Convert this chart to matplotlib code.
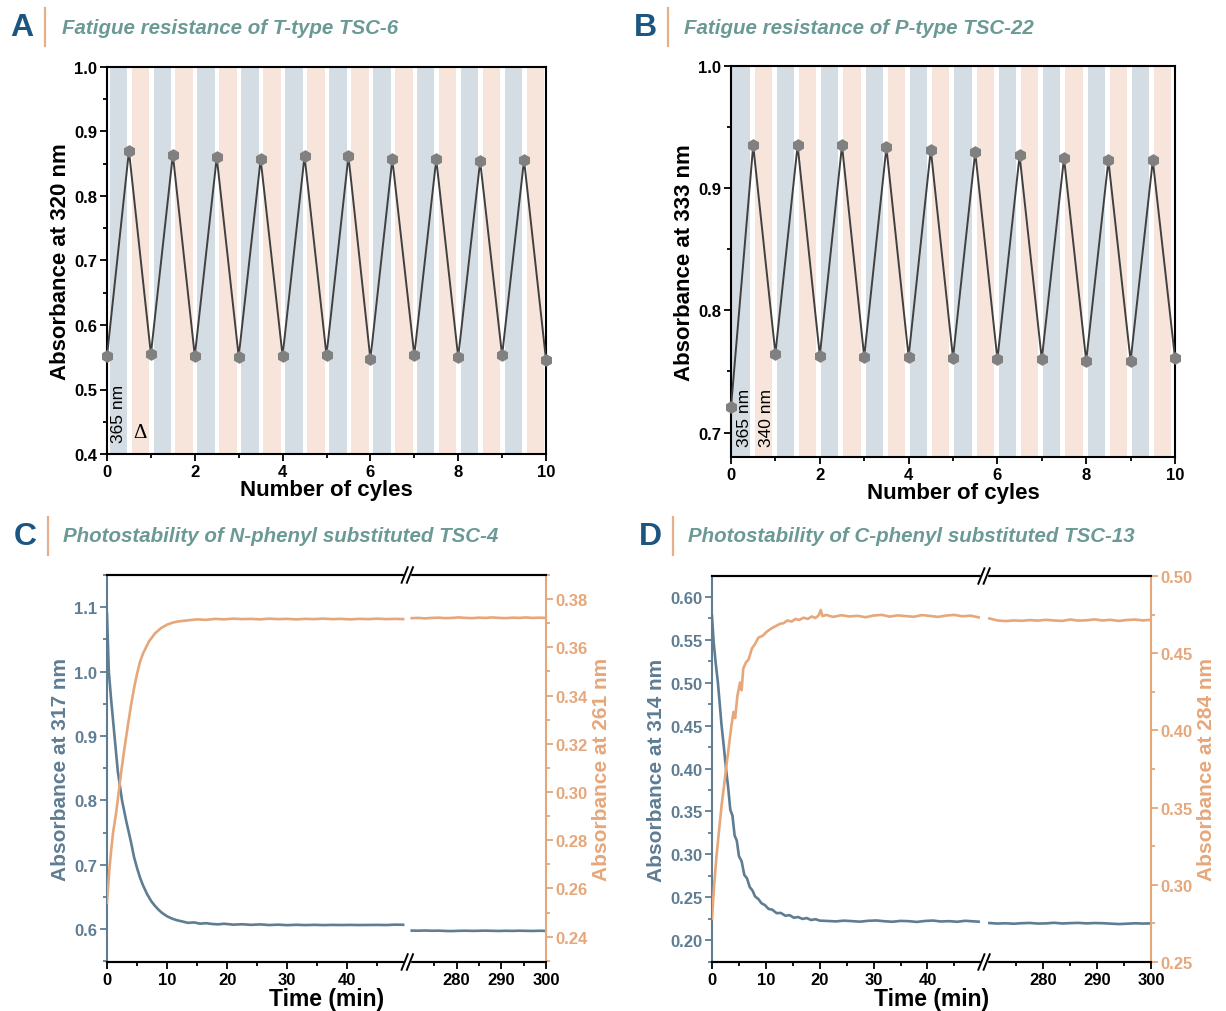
import numpy as np
import matplotlib
matplotlib.use('Agg')
from matplotlib import pyplot as plt
from matplotlib.ticker import MultipleLocator, FixedLocator
from matplotlib.patches import Rectangle
from matplotlib.lines import Line2D

plt.rcParams['font.family'] = ['Liberation Sans', 'DejaVu Sans']
plt.rcParams['font.weight'] = 'bold'
plt.rcParams['axes.labelweight'] = 'bold'

# ---- data: fatigue cycles (A, B) ----
cycles = [0, 0.5, 1, 1.5, 2, 2.5, 3, 3.5, 4, 4.5, 5, 5.5, 6, 6.5, 7, 7.5, 8, 8.5, 9, 9.5, 10]
a_abs = [0.552, 0.870, 0.555, 0.864, 0.552, 0.860, 0.551, 0.857, 0.552, 0.862, 0.553,
         0.862, 0.547, 0.857, 0.553, 0.857, 0.550, 0.854, 0.553, 0.856, 0.546]
b_abs = [0.7207, 0.935, 0.7645, 0.935, 0.763, 0.935, 0.762, 0.9334, 0.762, 0.9315, 0.761,
         0.9296, 0.760, 0.9268, 0.760, 0.9247, 0.7587, 0.9227, 0.7587, 0.9227, 0.761]

# ---- data: photostability C (TSC-4) ----
c_t_blue = [0, 0.3, 0.7, 1.2, 1.8, 2.5, 3.2, 4.0, 4.5, 5.0, 5.5, 6.0, 6.7, 7.4, 8.0, 8.6, 9.2,
            10.0, 10.8, 11.6, 12.5, 13.5, 14.5, 15.5, 16.5, 17.5, 18.5, 19.5, 21, 22.5, 24,
            25.5, 27, 28.5, 30, 31.5, 33, 34.5, 36, 37.5, 39, 40.5, 42, 43.5, 45, 46.5, 48, 49.3]
c_blue = [1.09, 1.00, 0.955, 0.905, 0.845, 0.800, 0.768, 0.735, 0.712, 0.695, 0.680, 0.668,
          0.654, 0.643, 0.636, 0.630, 0.625, 0.620, 0.6165, 0.614, 0.612, 0.6098, 0.6105,
          0.6085, 0.6093, 0.6080, 0.6075, 0.6084, 0.6070, 0.6076, 0.6067, 0.6074, 0.6064,
          0.6070, 0.6062, 0.6068, 0.6063, 0.6067, 0.6063, 0.6066, 0.6064, 0.6066, 0.6064,
          0.6065, 0.6066, 0.6064, 0.6070, 0.6068]
c_t_orange = [0, 0.2, 0.4, 0.7, 1.0, 1.5, 1.9, 2.4, 2.9, 3.5, 4.0, 4.5, 5.0, 5.5, 6.0, 7.0,
              8.0, 9.0, 10.0, 11.0, 12.0, 13.5, 15, 16.5, 18, 19.5, 21, 22.5, 24, 25.5, 27,
              28.5, 30, 31.5, 33, 34.5, 36, 37.5, 39, 40.5, 42, 43.5, 45, 46.5, 48, 49.3]
c_orange = [0.254, 0.261, 0.268, 0.276, 0.283, 0.291, 0.299, 0.309, 0.318, 0.328, 0.336,
            0.343, 0.349, 0.354, 0.3575, 0.3625, 0.3658, 0.3680, 0.3694, 0.3703, 0.3708,
            0.3712, 0.3716, 0.3714, 0.3718, 0.3716, 0.3719, 0.3717, 0.3718, 0.3716, 0.3719,
            0.3717, 0.3718, 0.3716, 0.3718, 0.3717, 0.3719, 0.3717, 0.3718, 0.3716, 0.3718,
            0.3717, 0.3719, 0.3717, 0.3718, 0.3717]
c_t_late = [270, 271.5, 273, 274.5, 276, 277.5, 279, 280.5, 282, 283.5, 285, 286.5, 288,
            289.5, 291, 292.5, 294, 295.5, 297, 298.5, 300]
c_blue_late = [0.5978, 0.5976, 0.5979, 0.5975, 0.5977, 0.5972, 0.5970, 0.5974, 0.5976,
               0.5973, 0.5975, 0.5977, 0.5974, 0.5972, 0.5975, 0.5973, 0.5976, 0.5974,
               0.5972, 0.5975, 0.5973]
c_orange_late = [0.3721, 0.3722, 0.3720, 0.3722, 0.3723, 0.3721, 0.3722, 0.3724, 0.3722,
                 0.3721, 0.3723, 0.3722, 0.3724, 0.3722, 0.3721, 0.3723, 0.3722, 0.3724,
                 0.3722, 0.3723, 0.3722]

# ---- data: photostability D (TSC-13) ----
d_t_blue = [0, 0.3, 0.7, 1.1, 1.4, 1.75, 2.2, 2.6, 3.0, 3.4, 3.8, 4.2, 4.6, 5.0, 5.5, 6.0,
            6.5, 7.0, 7.5, 8.0, 8.6, 9.2, 9.8, 10.5, 11.2, 12.0, 12.8, 13.6, 14.4, 15.2,
            16.0, 16.8, 17.6, 18.4, 19.2, 20.0, 21.5, 23, 24.5, 26, 27.5, 29, 30.5, 32,
            33.5, 35, 36.5, 38, 39.5, 41, 42.5, 44, 45.5, 47, 48.5, 49.5]
d_blue = [0.578, 0.548, 0.522, 0.500, 0.478, 0.452, 0.425, 0.400, 0.378, 0.352, 0.345,
          0.322, 0.316, 0.298, 0.292, 0.276, 0.272, 0.262, 0.258, 0.251, 0.248, 0.243,
          0.241, 0.2365, 0.2355, 0.2315, 0.2318, 0.2285, 0.2292, 0.2262, 0.2270, 0.2248,
          0.2258, 0.2235, 0.2245, 0.2228, 0.2224, 0.2219, 0.2228, 0.2222, 0.2216, 0.2226,
          0.2230, 0.2221, 0.2215, 0.2225, 0.2222, 0.2213, 0.2224, 0.2229, 0.2218, 0.2222,
          0.2215, 0.2226, 0.2220, 0.2216]
d_t_orange = [0, 0.4, 0.85, 1.3, 1.8, 2.3, 2.6, 3.0, 3.6, 4.0, 4.3, 4.7, 5.2, 5.5, 5.8, 6.3,
              6.8, 7.4, 8.0, 8.6, 9.4, 10.2, 11.0, 11.8, 12.6, 13.3, 14.0, 14.8, 15.5, 16.2,
              17.0, 17.8, 18.5, 19.2, 19.8, 20.2, 20.5, 21.2, 22.5, 24, 25.5, 27, 28.5, 30,
              31.5, 33, 34.5, 36, 37.5, 39, 40.5, 42, 43.5, 45, 46.5, 48, 49.5]
d_orange = [0.278, 0.300, 0.319, 0.335, 0.352, 0.366, 0.375, 0.386, 0.403, 0.412, 0.408,
            0.422, 0.431, 0.426, 0.440, 0.444, 0.446, 0.453, 0.456, 0.460, 0.4613, 0.464,
            0.466, 0.4675, 0.469, 0.4695, 0.4712, 0.4705, 0.4722, 0.4715, 0.4730, 0.4722,
            0.4738, 0.4728, 0.4745, 0.4780, 0.4740, 0.4748, 0.4735, 0.4746, 0.4738, 0.4742,
            0.4733, 0.4744, 0.4748, 0.4737, 0.4745, 0.4740, 0.4736, 0.4747, 0.4741, 0.4735,
            0.4744, 0.4748, 0.4739, 0.4743, 0.4732]
d_t_late = [270, 271.5, 273, 274.5, 276, 277.5, 279, 280.5, 282, 283.5, 285, 286.5, 288,
            289.5, 291, 292.5, 294, 295.5, 297, 298.5, 300]
d_blue_late = [0.2200, 0.2194, 0.2197, 0.2192, 0.2198, 0.2201, 0.2194, 0.2196, 0.2203,
               0.2195, 0.2199, 0.2202, 0.2196, 0.2200, 0.2198, 0.2193, 0.2188, 0.2192,
               0.2197, 0.2194, 0.2196]
d_orange_late = [0.4725, 0.4712, 0.4708, 0.4712, 0.4710, 0.4714, 0.4711, 0.4716, 0.4712,
                 0.4709, 0.4718, 0.4711, 0.4713, 0.4719, 0.4712, 0.4716, 0.4709, 0.4715,
                 0.4718, 0.4712, 0.4716]

time_major = [0, 10, 20, 30, 40, 280, 290, 300]
time_minor = [5, 15, 25, 35, 45, 275, 285, 295]

# colours
BAND_BLUE = '#d4dde3'
BAND_PEACH = '#f7e5db'
LINE_BLUE = '#5e7d93'
LINE_ORANGE = '#e6a77a'
TITLE_COL = '#6b9a96'
LETTER_COL = '#1b5580'

fig = plt.figure(figsize=(12.26, 10.12), dpi=100)
W, H = 1226, 1012


def px_axes(left, right, top, bottom):
    return fig.add_axes([left / W, 1 - bottom / H, (right - left) / W, (bottom - top) / H])


def header(letter, title, x_letter, x_bar, x_title, y):
    yf = 1 - y / H
    fig.text(x_letter / W, yf, letter, fontsize=23, color=LETTER_COL, ha='center', va='center')
    fig.add_artist(Line2D([x_bar / W, x_bar / W], [1 - (y - 19) / H, 1 - (y + 19) / H],
                          color='#e8b08a', lw=1.6))
    fig.text(x_title / W, yf, title, fontsize=14.8, style='italic', color=TITLE_COL,
             ha='left', va='center')


def cycle_panel(ax, values, ylim, ystep, off0, off1, ylabel):
    for k in range(20):
        ax.axvspan(0.5 * k + off0, 0.5 * k + off1, color=BAND_BLUE if k % 2 == 0 else BAND_PEACH,
                   lw=0, zorder=0)
    ax.plot(cycles, values, color='#404040', lw=1.4, marker='h', markersize=8,
            mfc='#808080', mec='#808080', clip_on=False, zorder=3)
    ax.set_xlim(0, 10)
    ax.set_ylim(*ylim)
    ax.xaxis.set_major_locator(MultipleLocator(2))
    ax.xaxis.set_minor_locator(MultipleLocator(1))
    ax.yaxis.set_major_locator(MultipleLocator(ystep))
    ax.yaxis.set_minor_locator(MultipleLocator(ystep / 2))
    ax.tick_params(which='both', direction='out', width=1.3, labelsize=12, pad=2)
    ax.tick_params(which='major', length=5)
    ax.tick_params(which='minor', length=3)
    for s in ax.spines.values():
        s.set_linewidth(1.5)
    ax.set_xlabel('Number of cyles', fontsize=16, labelpad=0)
    ax.set_ylabel(ylabel, fontsize=16, labelpad=2)


# ---- A ----
axA = px_axes(107, 546, 68, 455)
cycle_panel(axA, a_abs, (0.4, 1.0), 0.1, 0.06, 0.46, 'Absorbance at 320 nm')
axA.text(0.27, 0.418, '365 nm', rotation=90, fontsize=12.5, weight='normal', ha='center', va='bottom')
axA.text(0.75, 0.418, 'Δ', fontsize=15, weight='normal', family='Liberation Serif',
         ha='center', va='bottom')
header('A', 'Fatigue resistance of T-type TSC-6', 22, 45, 62, 28)

# ---- B ----
axB = px_axes(731, 1175, 67, 458)
cycle_panel(axB, b_abs, (0.68, 1.0), 0.1, 0.03, 0.42, 'Absorbance at 333 nm')
axB.text(0.3, 0.689, '365 nm', rotation=90, fontsize=12.5, weight='normal', ha='center', va='bottom')
axB.text(0.81, 0.689, '340 nm', rotation=90, fontsize=12.5, weight='normal', ha='center', va='bottom')
header('B', 'Fatigue resistance of P-type TSC-22', 645, 668, 684, 28)


# ---- C, D: broken time axis ----
def broken_scale(b1, b2, r):
    def fwd(x):
        x = np.asarray(x, dtype=float)
        return np.where(x < b1, x, np.where(x < b2, b1, b1 + (x - b2) * r))

    def inv(u):
        u = np.asarray(u, dtype=float)
        return np.where(u < b1, u, b2 + (u - b1) / r)
    return fwd, inv


def photo_panel(ax, b1, b2, r, blue_sets, orange_sets, ylim_l, step_l, ylim_r, step_r,
                lab_l, lab_r):
    ax.set_xscale('function', functions=broken_scale(b1, b2, r))
    ax2 = ax.twinx()
    for t, v in blue_sets:
        ax.plot(t, v, color=LINE_BLUE, lw=1.9, zorder=3)
    for t, v in orange_sets:
        ax2.plot(t, v, color=LINE_ORANGE, lw=1.9, zorder=3)
    ax.set_xlim(0, 300)
    ax.set_ylim(*ylim_l)
    ax2.set_ylim(*ylim_r)
    ax.xaxis.set_major_locator(FixedLocator(time_major))
    ax.xaxis.set_minor_locator(FixedLocator(time_minor))
    ax.xaxis.set_major_formatter(plt.FormatStrFormatter('%d'))
    ax.yaxis.set_major_locator(MultipleLocator(step_l))
    ax.yaxis.set_minor_locator(MultipleLocator(step_l / 2))
    ax2.yaxis.set_major_locator(MultipleLocator(step_r))
    ax2.yaxis.set_minor_locator(MultipleLocator(step_r / 2))
    for a in (ax, ax2):
        a.tick_params(which='both', direction='out', width=1.3, labelsize=12, pad=2)
        a.tick_params(which='major', length=5)
        a.tick_params(which='minor', length=3)
        for s in a.spines.values():
            s.set_linewidth(1.5)
    ax.tick_params(axis='y', which='both', colors=LINE_BLUE)
    ax2.tick_params(axis='y', which='both', colors=LINE_ORANGE)
    ax.spines['left'].set_color(LINE_BLUE)
    ax2.spines['left'].set_visible(False)
    ax2.spines['right'].set_color(LINE_ORANGE)
    ax.spines['right'].set_visible(False)
    ax.set_xlabel('Time (min)', fontsize=16.5, labelpad=0)
    ax.set_ylabel(lab_l, fontsize=15, color=LINE_BLUE, labelpad=3)
    ax2.set_ylabel(lab_r, fontsize=15, color=LINE_ORANGE, labelpad=3)
    # break marks
    xb = b1 / (b1 + (300 - b2) * r)
    for y in (0, 1):
        ax2.add_patch(Rectangle((xb - 0.007, y - 0.012), 0.014, 0.024, transform=ax2.transAxes,
                                color='white', clip_on=False, zorder=5))
        for dx in (-0.006, 0.006):
            ax2.plot([xb + dx - 0.007, xb + dx + 0.007], [y - 0.02, y + 0.02],
                     transform=ax2.transAxes, color='k', lw=1.4, clip_on=False, zorder=6)
    return ax2


axC = px_axes(107, 546, 576, 963)
photo_panel(axC, 50, 269, 0.745,
            [(c_t_blue, c_blue), (c_t_late, c_blue_late)],
            [(c_t_orange, c_orange), (c_t_late, c_orange_late)],
            (0.549, 1.150), 0.1, (0.2295, 0.390), 0.02,
            'Absorbance at 317 nm', 'Absorbance at 261 nm')
header('C', 'Photostability of N-phenyl substituted TSC-4', 25, 48, 63, 537)

axD = px_axes(712, 1151, 577, 963)
photo_panel(axD, 50.5, 269, 1.0,
            [(d_t_blue, d_blue), (d_t_late, d_blue_late)],
            [(d_t_orange, d_orange), (d_t_late, d_orange_late)],
            (0.1746, 0.6244), 0.05, (0.25, 0.50), 0.05,
            'Absorbance at 314 nm', 'Absorbance at 284 nm')
header('D', 'Photostability of C-phenyl substituted TSC-13', 650, 673, 688, 537)

fig.savefig('out.png', dpi=100)
